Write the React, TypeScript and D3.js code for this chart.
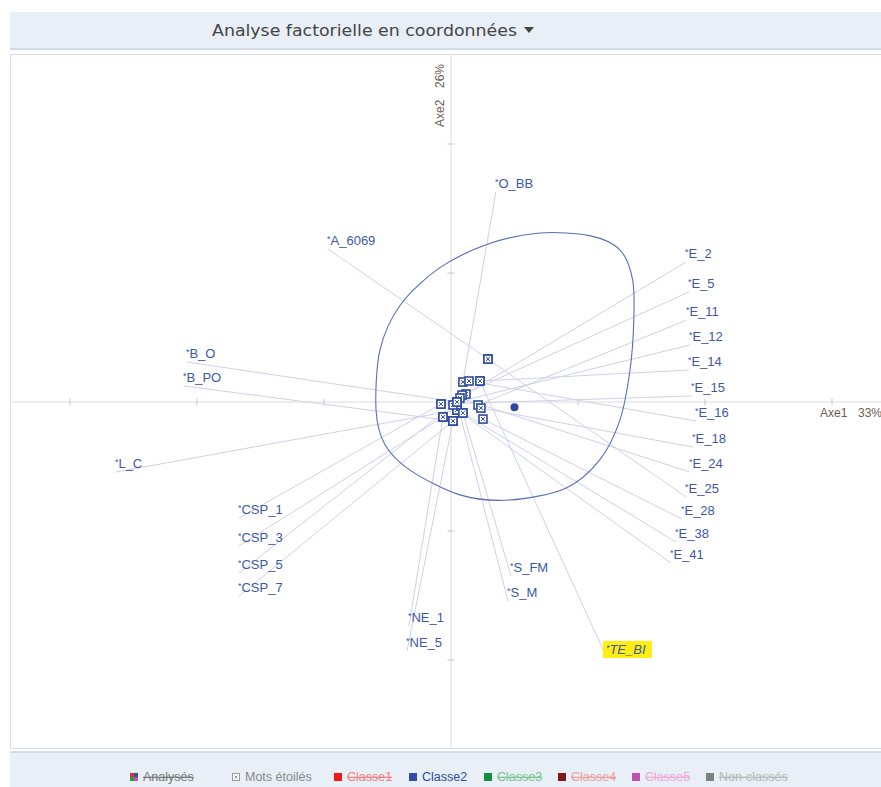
import React from 'react'
import * as d3 from 'd3'

// mots étoilés: label position (text start, baseline) and point position, in factor coords
const words = ['O_BB', 'A_6069', 'E_2', 'E_5', 'E_11', 'E_12', 'E_14', 'E_15', 'E_16', 'E_18', 'E_24', 'E_25', 'E_28', 'E_38', 'E_41',
  'B_O', 'B_PO', 'L_C', 'CSP_1', 'CSP_3', 'CSP_5', 'CSP_7', 'NE_1', 'NE_5', 'S_FM', 'S_M', 'TE_BI']
const labelX = [0.346, -0.976, 1.843, 1.866, 1.850, 1.874, 1.866, 1.890, 1.921, 1.898, 1.874, 1.843, 1.811, 1.764, 1.724,
  -2.087, -2.110, -2.646, -1.677, -1.677, -1.677, -1.677, -0.339, -0.354, 0.465, 0.441, 1.220]
const labelY = [1.659, 1.217, 1.116, 0.884, 0.667, 0.473, 0.279, 0.078, -0.116, -0.318, -0.512, -0.705, -0.876, -1.054, -1.217,
  0.341, 0.155, -0.512, -0.868, -1.085, -1.295, -1.473, -1.705, -1.899, -1.318, -1.512, -1.953]
const pointX = [0.094, 0.291, 0.118, 0.087, 0.213, 0.047, 0.228, -0.079, 0.142, 0.236, 0.071, 0.291, 0.252, 0.094, 0.047,
  0.047, 0.016, 0.047, -0.079, -0.063, 0.016, 0.016, -0.063, 0.016, 0.094, 0.047, 0.228]
const pointY = [0.155, 0.333, 0.062, 0.054, -0.023, 0.0, 0.163, -0.016, 0.163, -0.047, 0.031, 0.333, -0.132, -0.085, -0.062,
  0.0, -0.147, -0.062, -0.016, -0.116, -0.023, -0.147, -0.116, -0.147, -0.085, 0.0, 0.163]
const highlighted = 'TE_BI'

// contour of Classe 2 and its centre
const contourX = [-0.59, -0.56, -0.40, -0.09, 0.31, 0.70, 1.09, 1.33, 1.43, 1.44, 1.41, 1.33, 1.17, 0.90, 0.46, 0.07, -0.32, -0.52]
const contourY = [-0.06, 0.40, 0.75, 1.04, 1.23, 1.31, 1.29, 1.18, 0.95, 0.64, 0.25, -0.14, -0.45, -0.67, -0.76, -0.72, -0.53, -0.33]
const classCentre = [0.50, -0.04]

const xTicks = [-3, -2, -1, 1, 2, 3]
const yTicks = [-2, -1, 1, 2]

const legendNames = ['Analysés', 'Mots étoilés', 'Classe1', 'Classe2', 'Classe3', 'Classe4', 'Classe5', 'Non-classés']
const legendColors = ['multi', 'star', '#f01818', '#2e4fa8', '#109040', '#801818', '#c050b0', '#808080']
const legendText = ['#777', '#888', '#f08080', '#2e4a9e', '#7cc38c', '#eba0a0', '#eea8d8', '#b8b8b8']
const legendOn = [false, true, false, true, false, false, false, false]

export default function App() {
  const W = 881, H = 787
  const x = d3.scaleLinear().domain([-3.472, 3.386]).range([10, 881])
  const y = d3.scaleLinear().domain([-2.682, 2.690]).range([748, 55])
  const x0 = x(0), y0 = y(0)

  const contour = d3.line<number>()
    .x(i => x(contourX[i]))
    .y(i => y(contourY[i]))
    .curve(d3.curveCardinalClosed.tension(0.1))(contourX.map((_, i) => i))

  const legendX = [130, 232, 334, 409, 484, 558, 632, 706]
  const blue = '#3d58a8'
  const axisCol = '#6b5d52'

  return (
    <svg width={W} height={H} style={{ position: 'absolute', left: 0, top: 0, fontFamily: 'Liberation Sans, Arial, sans-serif' }}>
      {/* header */}
      <rect x={10} y={12} width={W - 10} height={37} fill='#e8eff7' />
      <line x1={10} x2={W} y1={49} y2={49} stroke='#d4dcec' strokeWidth={2} />
      <text x={212} y={36} fontSize={16.5} fill='#444' style={{ fontFamily: 'DejaVu Sans Condensed, DejaVu Sans, sans-serif' }}
        textLength={305} lengthAdjust='spacingAndGlyphs'>Analyse factorielle en coordonnées</text>
      <path d='M524,27 L534,27 L529,33 Z' fill='#444' />

      {/* plot frame */}
      <rect x={10.5} y={54.5} width={W - 10} height={694} fill='#fff' stroke='#dcdcdc' />

      {/* axes */}
      <line x1={10} x2={W} y1={y0} y2={y0} stroke='#dcdcdc' />
      <line x1={x0} x2={x0} y1={55} y2={748} stroke='#dcdcdc' />
      {xTicks.map(t => <line key={'xt' + t} x1={x(t)} x2={x(t)} y1={y0 - 3.5} y2={y0 + 3.5} stroke='#c8c8c8' />)}
      {yTicks.map(t => <line key={'yt' + t} x1={x0 - 3.5} x2={x0 + 3.5} y1={y(t)} y2={y(t)} stroke='#c8c8c8' />)}
      <text x={820} y={417} fontSize={12} fill={axisCol}>Axe1</text>
      <text x={858} y={417} fontSize={12} fill={axisCol}>33%</text>
      <text transform={`translate(${x0 - 7},127) rotate(-90)`} fontSize={12} fill={axisCol}>Axe2</text>
      <text transform={`translate(${x0 - 7},88) rotate(-90)`} fontSize={12} fill={axisCol}>26%</text>

      {/* links label -> point */}
      {words.map((w, i) => (
        <line key={'l' + w} x1={x(labelX[i]) + 1} y1={y(labelY[i]) + 4} x2={x(pointX[i])} y2={y(pointY[i])}
          stroke='#cfd0ea' strokeWidth={1} />
      ))}

      {/* classe 2 contour and centre */}
      <path d={contour ?? ''} fill='none' stroke='#5670b8' strokeWidth={1.1} />
      <circle cx={x(classCentre[0])} cy={y(classCentre[1])} r={4} fill='#2e4a9e' />

      {/* star-word markers */}
      {words.map((w, i) => {
        const px = x(pointX[i]), py = y(pointY[i])
        return (
          <g key={'m' + w} transform={`translate(${px},${py})`}>
            <rect x={-4} y={-4} width={8} height={8} fill='#fff' stroke='#2e4a9e' strokeWidth={1.6} />
            <path d='M-2,-2 L2,2 M2,-2 L-2,2' stroke='#2e4a9e' strokeWidth={1} />
          </g>
        )
      })}

      {/* labels */}
      {words.map((w, i) => {
        const lx = x(labelX[i]), ly = y(labelY[i])
        const hl = w === highlighted
        return (
          <g key={'t' + w}>
            {hl && <rect x={lx - 3} y={ly - 13} width={49} height={17} fill='#ffee10' />}
            <text x={lx} y={ly} fontSize={13} fill={blue} fontStyle={hl ? 'italic' : 'normal'}>
              <tspan fontSize={9} dy={-3}>*</tspan><tspan dy={3}>{w}</tspan>
            </text>
          </g>
        )
      })}

      {/* legend */}
      <rect x={10} y={752} width={W - 10} height={35} fill='#e8eff7' />
      <line x1={10} x2={W} y1={752} y2={752} stroke='#c9d3e6' strokeWidth={1.5} />
      {legendNames.map((n, i) => {
        const lx = legendX[i]
        const c = legendColors[i]
        return (
          <g key={'lg' + n}>
            {c === 'multi' && (
              <g>
                <rect x={lx} y={773} width={4} height={4} fill='#e03030' />
                <rect x={lx + 4} y={773} width={4} height={4} fill='#3050b0' />
                <rect x={lx} y={777} width={4} height={4} fill='#20a040' />
                <rect x={lx + 4} y={777} width={4} height={4} fill='#c050b0' />
              </g>
            )}
            {c === 'star' && (
              <g>
                <rect x={lx + 0.5} y={773.5} width={7} height={7} fill='#fff' stroke='#999' />
                <path d={`M${lx + 2.5},${775.5} l3,3 m0,-3 l-3,3`} stroke='#999' />
              </g>
            )}
            {c !== 'multi' && c !== 'star' && <rect x={lx} y={773} width={8} height={8} fill={c} />}
            <text x={lx + 13} y={781} fontSize={12.5} fill={legendText[i]}
              textDecoration={legendOn[i] ? 'none' : 'line-through'}
              style={{ textDecoration: legendOn[i] ? 'none' : 'line-through' }}>{n}</text>
          </g>
        )
      })}
    </svg>
  )
}
